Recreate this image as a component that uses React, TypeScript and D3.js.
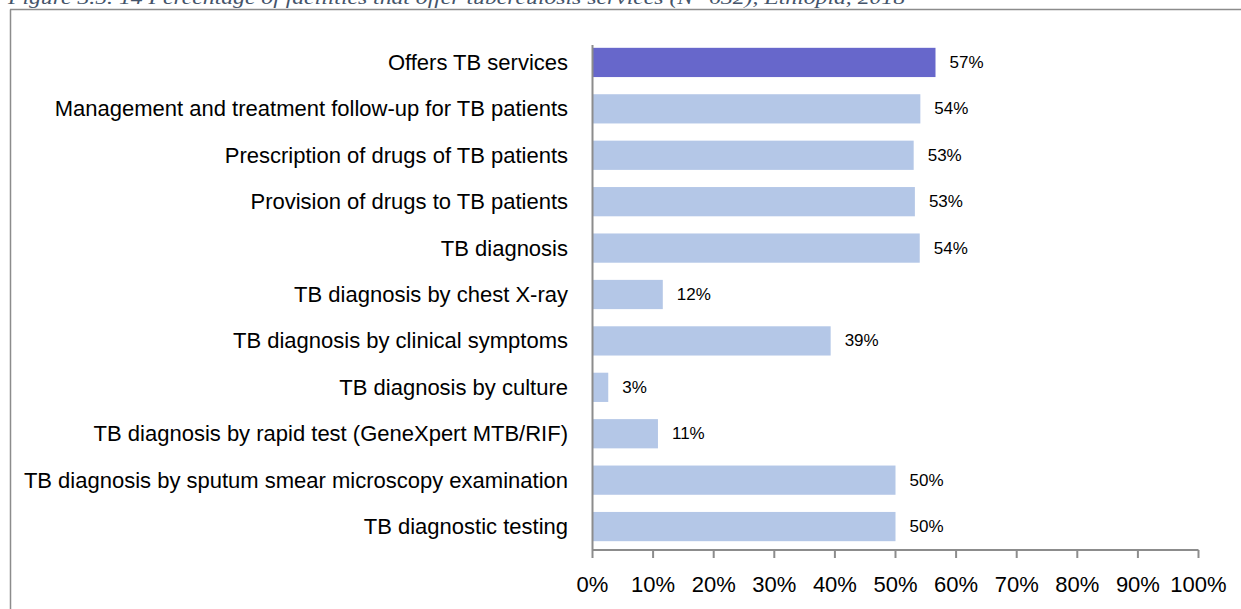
import React from "react";
import * as d3 from "d3";

const categories = [
  "Offers TB services",
  "Management and treatment follow-up for TB patients",
  "Prescription of drugs of TB patients",
  "Provision of drugs to TB patients",
  "TB diagnosis",
  "TB diagnosis by chest X-ray",
  "TB diagnosis by clinical symptoms",
  "TB diagnosis by culture",
  "TB diagnosis by rapid test (GeneXpert MTB/RIF)",
  "TB diagnosis by sputum smear microscopy examination",
  "TB diagnostic testing",
];
const values = [56.6, 54.1, 53.0, 53.2, 54.0, 11.6, 39.3, 2.6, 10.8, 50.0, 50.0];
const valueLabels = ["57%", "54%", "53%", "53%", "54%", "12%", "39%", "3%", "11%", "50%", "50%"];
const highlighted = ["Offers TB services"];
const xTicks = [0, 10, 20, 30, 40, 50, 60, 70, 80, 90, 100];
const title =
  "Figure 3.5. 14 Percentage of facilities that offer tuberculosis services (N=632), Ethiopia, 2018";

const W = 1241;
const H = 609;
const FONT = "'Liberation Sans Narrow', 'Arial Narrow', 'Liberation Sans', Arial, sans-serif";

export default function App() {
  const x = d3.scaleLinear().domain([0, 100]).range([592.5, 1198.5]);
  const y = d3
    .scaleBand<string>()
    .domain(categories)
    .range([39, 550])
    .paddingInner(0.37)
    .paddingOuter(0.19);
  const axisY = 550;

  return (
    <svg
      width={W}
      height={H}
      style={{ position: "absolute", left: 0, top: 0, background: "#fff" }}
    >
      <text
        x={8}
        y={4}
        fontFamily="'Liberation Serif', 'DejaVu Serif', serif"
        fontStyle="italic"
        fontSize={19}
        fill="#44546A"
        textLength={897}
        lengthAdjust="spacingAndGlyphs"
      >
        {title}
      </text>
      <line x1={10} x2={W} y1={9.5} y2={9.5} stroke="#8c8c8c" strokeWidth={1.5} />
      <line x1={10.5} x2={10.5} y1={9.5} y2={H} stroke="#8c8c8c" strokeWidth={1.5} />

      {categories.map((c, i) => {
        const by = y(c)!;
        const bh = y.bandwidth();
        const hl = highlighted.includes(c);
        return (
          <g key={c}>
            <rect
              x={x(0)}
              y={by}
              width={x(values[i]) - x(0)}
              height={bh}
              fill={hl ? "#6767CB" : "#B4C7E7"}
            />
            <text
              x={568}
              y={by + bh / 2}
              textAnchor="end"
              dominantBaseline="central"
              fontFamily={FONT}
              fontSize={22}
              fill="#000"
            >
              {c}
            </text>
            <text
              x={x(values[i]) + 14}
              y={by + bh / 2}
              dominantBaseline="central"
              fontFamily={FONT}
              fontSize={17}
              fill="#000"
            >
              {valueLabels[i]}
            </text>
          </g>
        );
      })}

      <line x1={x(0)} x2={x(0)} y1={y.range()[0] + 6} y2={axisY} stroke="#8c8c8c" strokeWidth={2} />
      <line x1={x(0)} x2={x(100)} y1={axisY} y2={axisY} stroke="#8c8c8c" strokeWidth={2} />
      {xTicks.map((t) => (
        <g key={t}>
          <line x1={x(t)} x2={x(t)} y1={axisY} y2={axisY + 8} stroke="#8c8c8c" strokeWidth={2} />
          <text
            x={x(t)}
            y={584}
            textAnchor="middle"
            dominantBaseline="central"
            fontFamily={FONT}
            fontSize={22}
            fill="#000"
          >
            {t}%
          </text>
        </g>
      ))}
    </svg>
  );
}
